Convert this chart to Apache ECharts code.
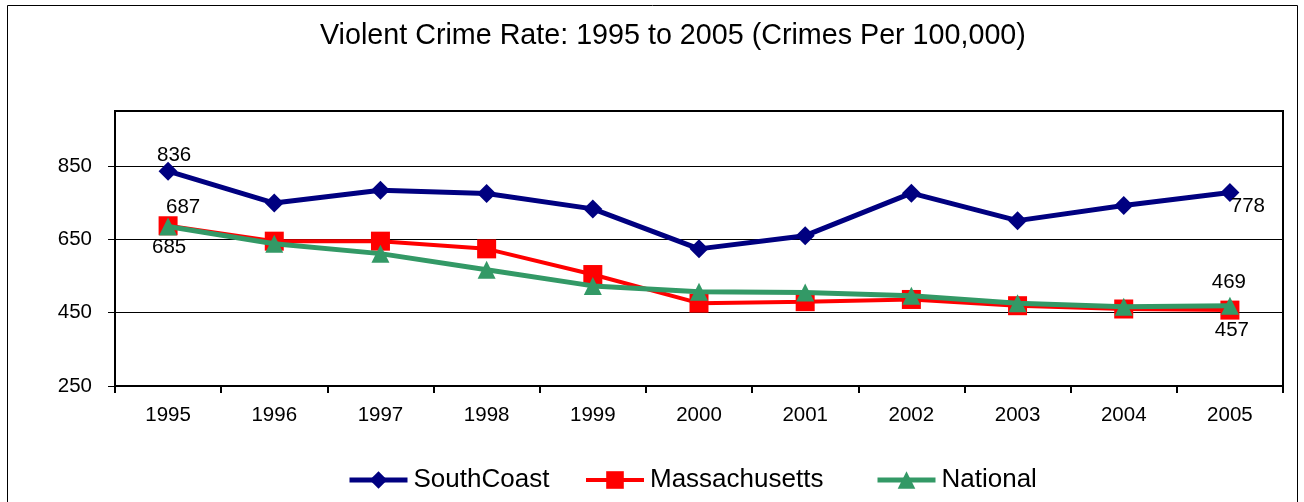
<!DOCTYPE html>
<html>
<head>
<meta charset="utf-8">
<script src="https://cdn.jsdelivr.net/npm/echarts@6/dist/echarts.min.js"></script>
<style>
html,body{margin:0;padding:0;background:#fff;}
#chart{width:1304px;height:502px;}
</style>
</head>
<body>
<div id="chart"></div>
<script>
// ---- data ----
var titleText = 'Violent Crime Rate: 1995 to 2005 (Crimes Per 100,000)';
var years = ['1995','1996','1997','1998','1999','2000','2001','2002','2003','2004','2005'];
var seriesNames = ['SouthCoast', 'Massachusetts', 'National'];
var southCoast = [836, 749, 784, 775, 733, 624, 660, 776, 701, 742, 778];
var massachusetts = [687, 645, 645, 624, 554, 476, 480, 486, 469, 460, 457];
var national = [685, 638, 611, 567, 523, 507, 505, 496, 476, 466, 469];
var yTicks = [250, 450, 650, 850];

// ---- styles ----
var FONT = 'Liberation Sans, Arial, sans-serif';
var colors = ['#000080', '#FF0000', '#339966'];
var symbols = ['diamond', 'rect', 'triangle'];
var symbolSizes = [19, 19, 18];
var lineWidths = [5, 4, 5];
// label offsets for first / last point of each series
var labelOffsets = [
  {first: [6, -16], last: [18, 14]},
  {first: [15, -18], last: [2, 20]},
  {first: [1, 21], last: [-1, -23]}
];

function buildData(vals, idx) {
  return vals.map(function (v, i) {
    var item = {value: v};
    if (i === 0 || i === vals.length - 1) {
      item.label = {
        show: true,
        position: 'inside',
        offset: i === 0 ? labelOffsets[idx].first : labelOffsets[idx].last,
        color: '#000',
        fontSize: 20.5,
        fontFamily: FONT,
        formatter: '{c}'
      };
    }
    return item;
  });
}

var allVals = [southCoast, massachusetts, national];
var series = allVals.map(function (vals, idx) {
  return {
    name: seriesNames[idx],
    type: 'line',
    data: buildData(vals, idx),
    symbol: symbols[idx],
    symbolSize: symbolSizes[idx],
    showAllSymbol: true,
    lineStyle: {color: colors[idx], width: lineWidths[idx]},
    itemStyle: {color: colors[idx]},
    label: {show: false},
    emphasis: {disabled: true},
    animation: false,
    z: 2 + idx
  };
});

var legendLefts = [347, 584, 875];
var legends = seriesNames.map(function (n, i) {
  return {
    data: [n],
    left: legendLefts[i],
    top: 467,
    padding: 0,
    itemWidth: 58,
    itemHeight: 22,
    itemGap: 0,
    lineStyle: {width: lineWidths[i], color: colors[i]},
    textStyle: {fontSize: 26, fontFamily: FONT, color: '#000', padding: [0, 0, 0, 1]},
    selectedMode: false
  };
});

var chart = echarts.init(document.getElementById('chart'), null, {renderer: 'canvas'});
chart.setOption({
  backgroundColor: '#fff',
  animation: false,
  title: {
    text: titleText,
    left: 315,
    top: 17,
    textStyle: {fontSize: 28.7, fontWeight: 'normal', fontFamily: FONT, color: '#000'}
  },
  legend: legends,
  grid: {
    left: 115, right: 21, top: 111, bottom: 116,
    show: true, borderColor: '#000', borderWidth: 2, backgroundColor: '#fff'
  },
  xAxis: {
    type: 'category',
    data: years,
    boundaryGap: true,
    axisLine: {lineStyle: {color: '#000', width: 2}},
    axisTick: {show: true, length: 7, lineStyle: {color: '#000', width: 2}},
    axisLabel: {color: '#000', fontSize: 20.5, fontFamily: FONT, margin: 19},
    splitLine: {show: false}
  },
  yAxis: {
    type: 'value',
    min: 250,
    max: 1000,
    interval: 200,
    axisLine: {show: true, lineStyle: {color: '#000', width: 2}},
    axisTick: {show: true, length: 7, customValues: yTicks, lineStyle: {color: '#000', width: 1}},
    axisLabel: {
      color: '#000', fontSize: 20.5, fontFamily: FONT, margin: 23,
      customValues: yTicks,
      formatter: function (v) { return yTicks.indexOf(v) >= 0 ? String(v) : ''; }
    },
    splitLine: {show: true, lineStyle: {color: '#000', width: 1}}
  },
  graphic: [{
    type: 'rect',
    shape: {x: 7.5, y: 5.5, width: 1290, height: 520},
    style: {fill: null, stroke: '#000', lineWidth: 1},
    silent: true,
    z: -1
  }],
  series: series
});
</script>
</body>
</html>
